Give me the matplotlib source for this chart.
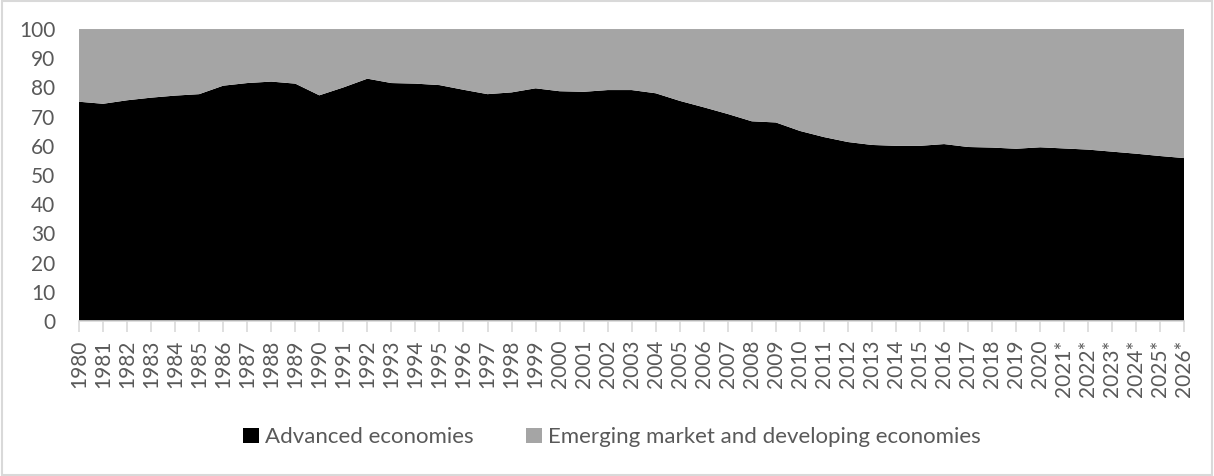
import matplotlib.pyplot as plt
from matplotlib.patches import Patch, Rectangle

plt.rcParams['font.family'] = ['Lato', 'DejaVu Sans']

years = [str(y) for y in range(1980, 2021)] + [f'{y}*' for y in range(2021, 2027)]
advanced = [75.1, 74.4, 75.6, 76.5, 77.2, 77.7, 80.6, 81.5, 82.0, 81.3,
            77.3, 80.0, 83.0, 81.5, 81.3, 80.8, 79.2, 77.7, 78.3, 79.7,
            78.7, 78.5, 79.1, 79.1, 78.0, 75.4, 73.2, 70.9, 68.4, 68.0,
            65.1, 63.0, 61.3, 60.3, 60.0, 60.0, 60.6, 59.6, 59.4, 59.0,
            59.5, 59.1, 58.7, 58.0, 57.3, 56.5, 55.8]
emerging = [100 - v for v in advanced]

labels = ['Advanced economies', 'Emerging market and developing economies']
colors = ['#000000', '#a5a5a5']

fig = plt.figure(figsize=(12.14, 4.76), dpi=100)
ax = fig.add_axes([0.0651, 0.3256, 0.9105, 0.6134])

x = range(len(years))
ax.stackplot(x, advanced, emerging, colors=colors, linewidth=0)

ax.set_xlim(0, len(years) - 1)
ax.set_ylim(0, 100)
ax.set_yticks(range(0, 101, 10))
ax.set_xticks(list(x))
ax.set_xticklabels(years, rotation=90)

for side in ['top', 'right', 'left']:
    ax.spines[side].set_visible(False)
ax.spines['bottom'].set_color('#d9d9d9')
ax.spines['bottom'].set_linewidth(1.2)
ax.tick_params(axis='x', colors='#d9d9d9', labelcolor='#595959', length=8,
               width=1.2, labelsize=15, pad=5.5)
ax.tick_params(axis='y', length=0, labelcolor='#595959', labelsize=15, pad=17)

handles = [Patch(facecolor=c, edgecolor='none') for c in colors]
fig.legend(handles, labels, loc='center', bbox_to_anchor=(0.504, 0.081),
           ncol=2, frameon=False, fontsize=16, handlelength=0.68,
           handleheight=0.68, handletextpad=0.27, columnspacing=2.4,
           labelcolor='#595959')

# light outer border around the whole chart
fig.patches.append(Rectangle((0.002, 0.002), 0.996, 0.996, transform=fig.transFigure,
                             fill=False, edgecolor='#d9d9d9', linewidth=1.5))

fig.savefig('out.png', dpi=100)
